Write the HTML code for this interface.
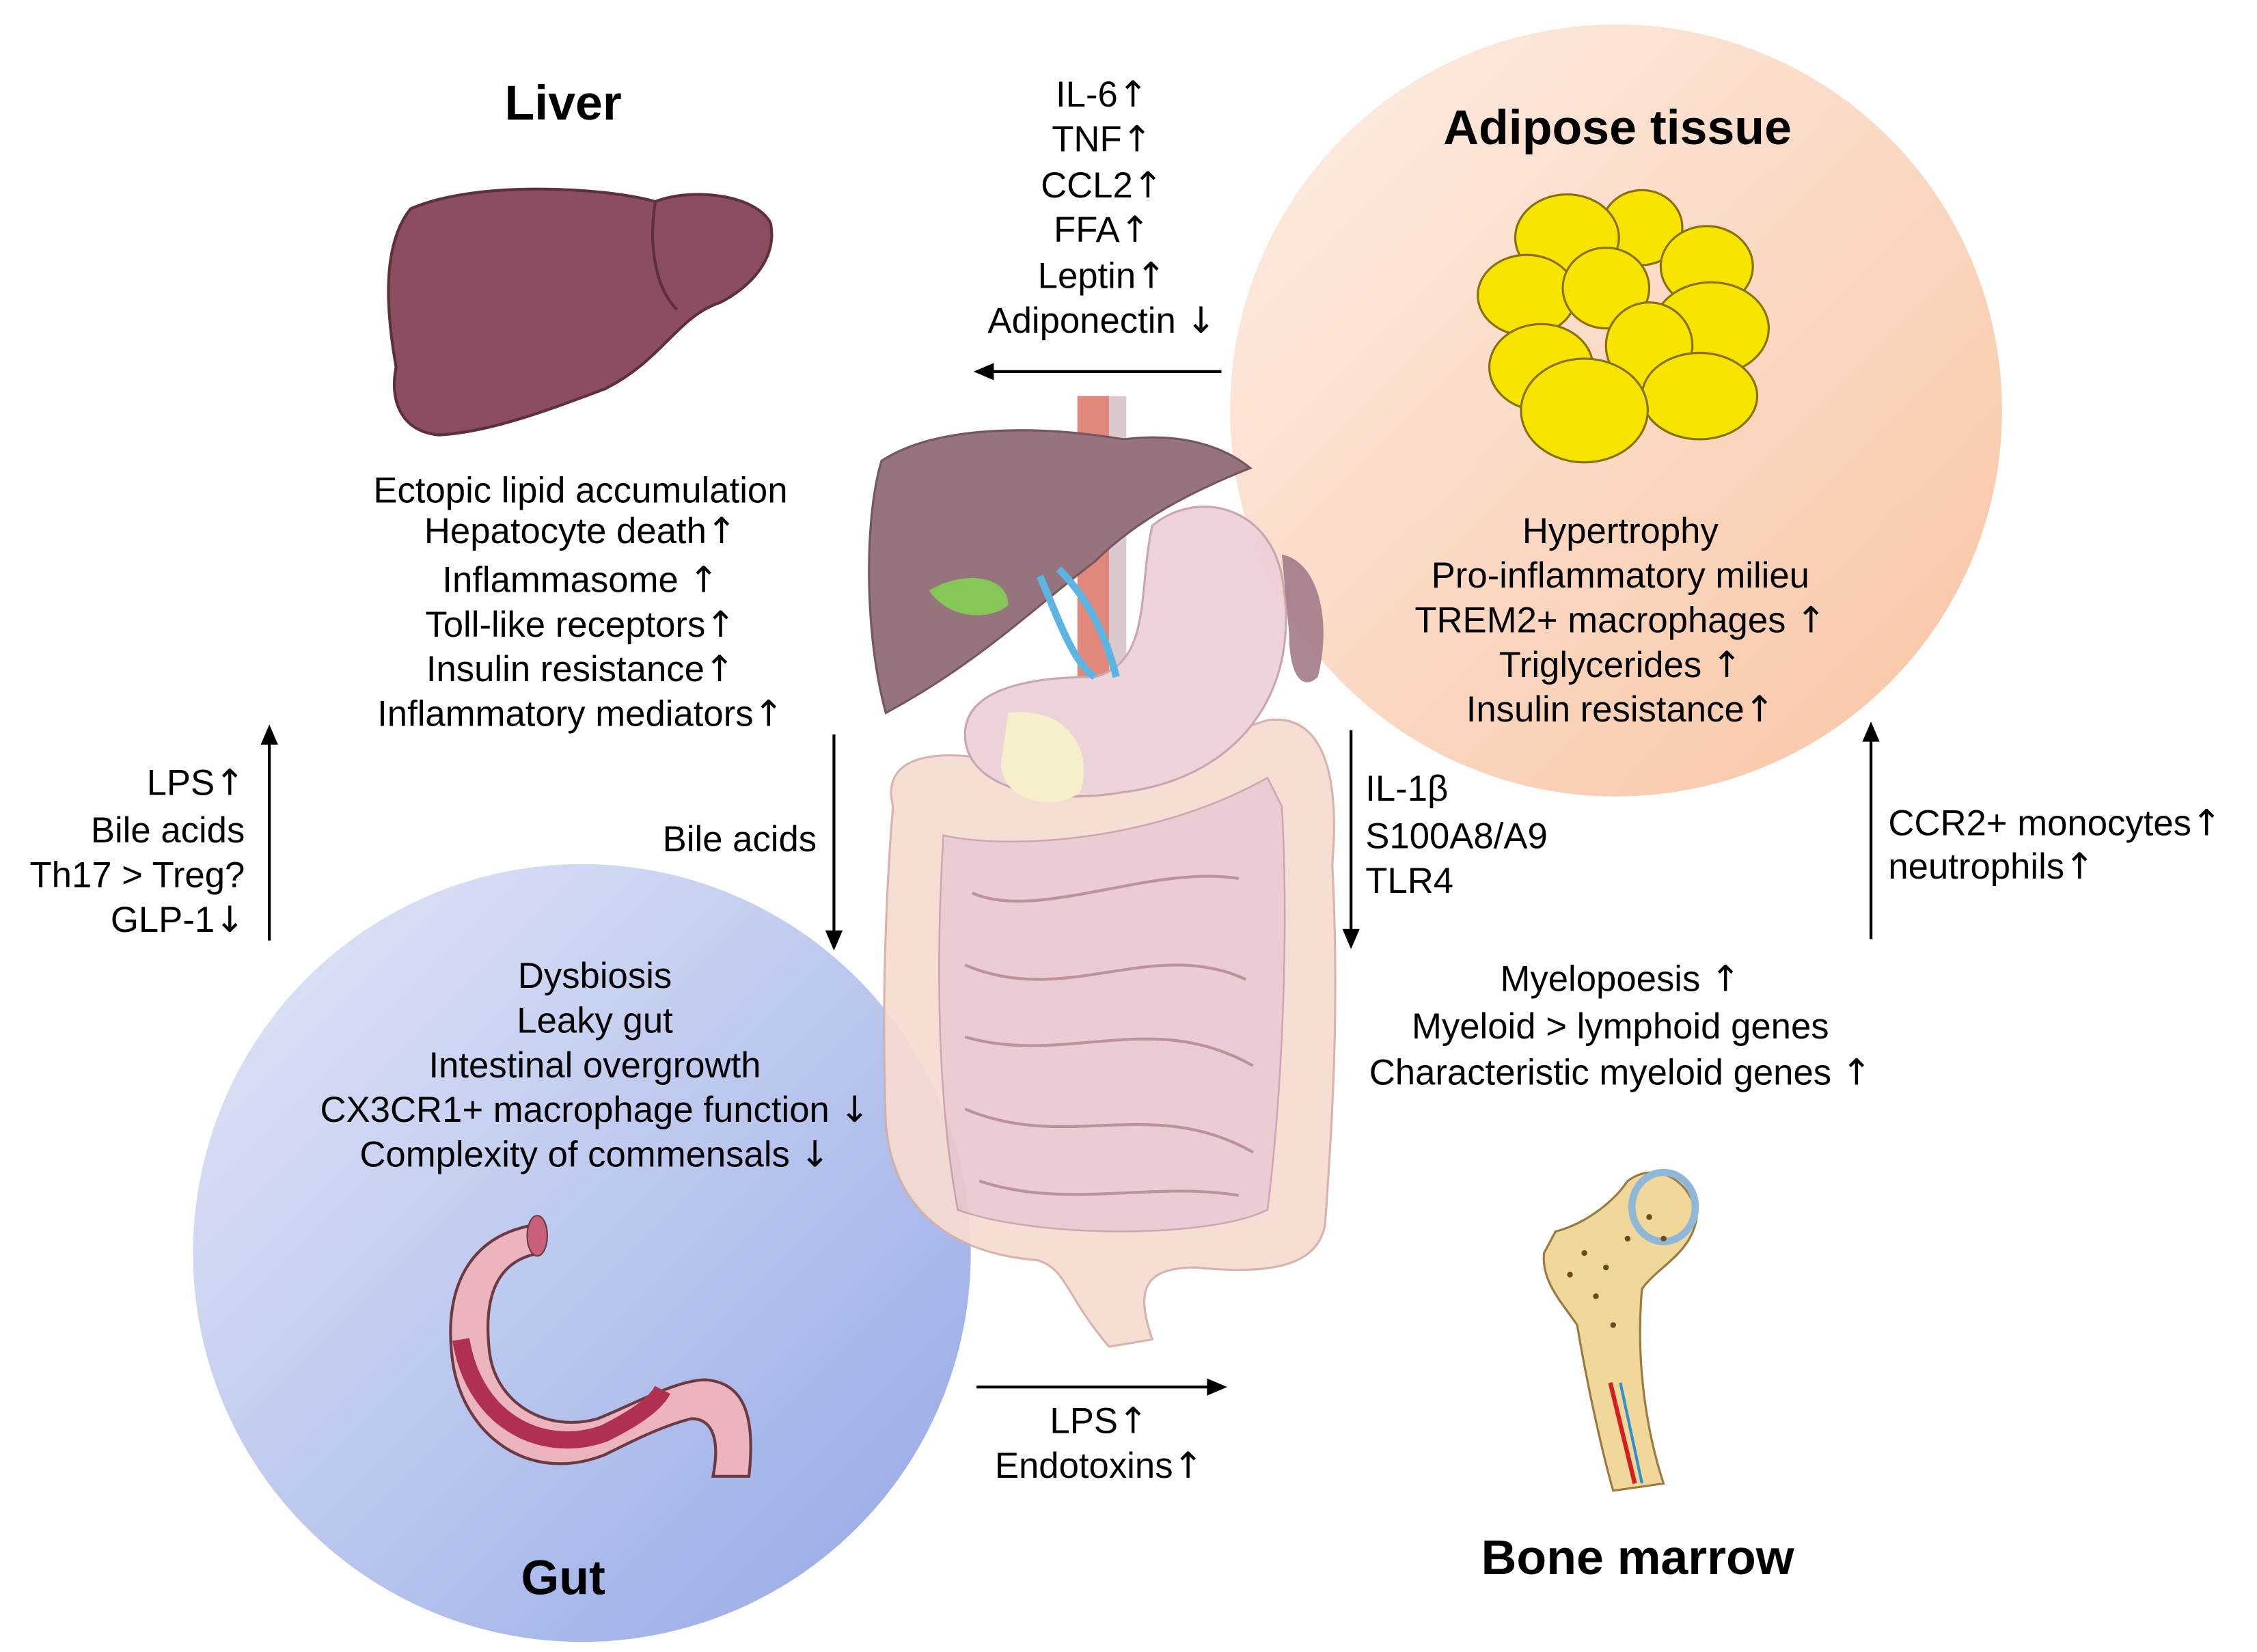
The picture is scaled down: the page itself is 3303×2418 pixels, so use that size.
<!DOCTYPE html>
<html><head><meta charset="utf-8"><style>
html,body{margin:0;padding:0;background:#fff}
svg{display:block}
text{font-family:"Liberation Sans",Arial,sans-serif;fill:#000}
.a{font-family:"DejaVu Sans",sans-serif;font-weight:normal}
</style></head><body>
<svg width="3303" height="2418" viewBox="0 0 1567 1147" preserveAspectRatio="none" xmlns="http://www.w3.org/2000/svg">
<defs>
<linearGradient id="ga" x1="0" y1="0" x2="1" y2="1"><stop offset="0" stop-color="#fdeee6"/><stop offset="1" stop-color="#f9c4a2"/></linearGradient>
<linearGradient id="gg" x1="0" y1="0" x2="1" y2="1"><stop offset="0" stop-color="#e4e8f7"/><stop offset="1" stop-color="#93a7e6"/></linearGradient>
</defs>
<circle cx="1122" cy="285" r="268" fill="url(#ga)"/>
<circle cx="404" cy="870" r="270" fill="url(#gg)"/>

<g opacity="0.93">
<rect x="748" y="275" width="22" height="290" fill="#e08070"/>
<rect x="770" y="275" width="12" height="290" fill="#d8c6cc"/>
<path d="M620,560 C610,520 660,520 700,530 C760,530 820,520 880,500 C920,495 930,540 925,600 C930,700 925,780 920,850 C915,880 880,885 830,880 C790,880 790,900 800,930 L770,935 C740,900 740,880 720,875 C660,870 620,840 615,780 C612,700 615,620 620,560 Z" fill="#f6dcd2" stroke="#d4b0a8" stroke-width="1.5"/>
<path d="M655,580 C700,590 800,585 880,540 L890,560 C895,650 890,760 880,840 C840,860 720,860 665,840 C650,760 650,660 655,580 Z" fill="#e9c9cf" stroke="#c9a0ab" stroke-width="1.2"/>
<path d="M675,620 C720,640 800,600 860,610 M670,670 C740,700 800,650 865,680 M670,720 C740,740 800,700 870,740 M670,770 C740,800 800,760 870,800 M680,820 C740,840 800,820 860,830" fill="none" stroke="#b8899a" stroke-width="2"/>
<path d="M800,365 C830,340 880,350 890,400 C905,480 860,540 780,550 C720,560 670,545 670,510 C670,480 710,470 760,470 C800,460 790,410 800,365 Z" fill="#ecd1d8" stroke="#c8a0ab" stroke-width="1.5"/>
<path d="M700,495 C740,490 760,520 750,550 C730,565 695,555 695,530 Z" fill="#f7edc8"/>
<path d="M612,320 C650,295 720,295 780,305 C820,300 850,310 868,325 C830,340 790,360 760,390 C720,420 680,460 615,495 C600,440 600,360 612,320 Z" fill="#8f6a74" stroke="#6b4a55" stroke-width="1.5"/>
<path d="M645,410 C670,395 700,400 700,420 C690,430 660,432 645,410 Z" fill="#7cc24a"/>
<path d="M722,400 C735,430 745,460 760,470 M735,395 C760,420 770,450 775,470" stroke="#4fb0e0" stroke-width="5" fill="none"/>
<path d="M890,385 C915,390 925,430 915,470 C905,480 895,470 895,440 Z" fill="#a57d8c"/>
</g>

<path d="M285,145 C330,125 420,130 455,140 C480,130 525,135 535,155 C540,180 520,200 500,210 C470,220 460,250 420,270 C380,285 340,300 305,302 C280,300 270,280 275,255 C268,215 265,170 285,145 Z" fill="#8b4e5e" stroke="#5e2f3c" stroke-width="2"/>
<path d="M455,140 C450,170 455,200 470,215" fill="none" stroke="#5e2f3c" stroke-width="2"/>

<g fill="#f7e400" stroke="#8a7000" stroke-width="1.5">
<ellipse cx="1140" cy="158" rx="28" ry="26"/>
<ellipse cx="1088" cy="165" rx="36" ry="30"/>
<ellipse cx="1185" cy="185" rx="32" ry="28"/>
<ellipse cx="1060" cy="205" rx="34" ry="28"/>
<ellipse cx="1115" cy="200" rx="30" ry="28"/>
<ellipse cx="1188" cy="228" rx="40" ry="32"/>
<ellipse cx="1145" cy="240" rx="30" ry="30"/>
<ellipse cx="1070" cy="255" rx="36" ry="30"/>
<ellipse cx="1180" cy="275" rx="40" ry="30"/>
<ellipse cx="1100" cy="285" rx="44" ry="36"/>
</g>

<path d="M375,850 C330,855 305,890 315,950 C325,1000 370,1030 420,1010 C440,1000 460,990 480,985 C495,985 500,1000 495,1025 L520,1025 C525,980 515,960 490,958 C470,958 440,975 415,985 C380,995 345,975 340,940 C335,900 345,875 375,870 Z" fill="#ecb4bd" stroke="#6b3a45" stroke-width="2"/>
<path d="M320,930 C330,990 380,1010 420,995 C440,985 455,975 460,965" fill="none" stroke="#b0304f" stroke-width="12"/>
<ellipse cx="373" cy="858" rx="7" ry="14" fill="#c9607a" stroke="#6b3a45"/>

<path d="M1080,855 C1100,850 1120,835 1130,820 C1150,805 1175,820 1178,845 C1175,870 1150,880 1140,895 C1135,950 1145,1000 1155,1030 L1120,1035 C1110,1000 1100,950 1095,920 C1085,905 1070,890 1072,870 Z" fill="#f2d79a" stroke="#9a7a40" stroke-width="1.5"/>
<ellipse cx="1155" cy="838" rx="22" ry="24" fill="none" stroke="#8fb8d8" stroke-width="5"/>
<g fill="#6b4a20"><circle cx="1100" cy="870" r="2"/><circle cx="1115" cy="880" r="2"/><circle cx="1130" cy="860" r="2"/><circle cx="1145" cy="845" r="2"/><circle cx="1108" cy="900" r="2"/><circle cx="1120" cy="920" r="2"/><circle cx="1090" cy="885" r="2"/><circle cx="1155" cy="860" r="2"/></g>
<path d="M1118,960 L1135,1030" stroke="#d02020" stroke-width="3"/>
<path d="M1125,960 L1140,1030" stroke="#3090d0" stroke-width="2"/>

<g stroke="#000" stroke-width="2" fill="none">
<line x1="848" y1="258" x2="686" y2="258"/>
<line x1="187" y1="653" x2="187" y2="515"/>
<line x1="579" y1="510" x2="579" y2="648"/>
<line x1="938" y1="507" x2="938" y2="647"/>
<line x1="1299" y1="652" x2="1299" y2="513"/>
<line x1="678" y1="963" x2="840" y2="963"/>
</g>
<g fill="#000">
<path d="M676,258 L690,252 L690,264 Z"/>
<path d="M187,503 L181,517 L193,517 Z"/>
<path d="M579,660 L573,646 L585,646 Z"/>
<path d="M938,659 L932,645 L944,645 Z"/>
<path d="M1299,501 L1293,515 L1305,515 Z"/>
<path d="M852,963 L838,957 L838,969 Z"/>
</g>

<g font-weight="bold" font-size="34" text-anchor="middle">
<text x="391" y="83">Liver</text>
<text x="1123" y="100">Adipose tissue</text>
<text x="391" y="1107">Gut</text>
<text x="1137" y="1093">Bone marrow</text>
</g>

<g font-size="25" text-anchor="middle">
<text x="765" y="74">IL-6<tspan class="a">↑</tspan></text>
<text x="765" y="105">TNF<tspan class="a">↑</tspan></text>
<text x="765" y="137">CCL2<tspan class="a">↑</tspan></text>
<text x="765" y="168">FFA<tspan class="a">↑</tspan></text>
<text x="765" y="200">Leptin<tspan class="a">↑</tspan></text>
<text x="765" y="231">Adiponectin <tspan class="a">↓</tspan></text>

<text x="403" y="349">Ectopic lipid accumulation</text>
<text x="403" y="377">Hepatocyte death<tspan class="a">↑</tspan></text>
<text x="403" y="411">Inflammasome <tspan class="a">↑</tspan></text>
<text x="403" y="442">Toll-like receptors<tspan class="a">↑</tspan></text>
<text x="403" y="473">Insulin resistance<tspan class="a">↑</tspan></text>
<text x="403" y="504">Inflammatory mediators<tspan class="a">↑</tspan></text>

<text x="1125" y="377">Hypertrophy</text>
<text x="1125" y="408">Pro-inflammatory milieu</text>
<text x="1125" y="439">TREM2+ macrophages <tspan class="a">↑</tspan></text>
<text x="1125" y="470">Triglycerides <tspan class="a">↑</tspan></text>
<text x="1125" y="501">Insulin resistance<tspan class="a">↑</tspan></text>

<text x="413" y="686">Dysbiosis</text>
<text x="413" y="717">Leaky gut</text>
<text x="413" y="748">Intestinal overgrowth</text>
<text x="413" y="779">CX3CR1+ macrophage function <tspan class="a">↓</tspan></text>
<text x="413" y="810">Complexity of commensals <tspan class="a">↓</tspan></text>

<text x="1125" y="688">Myelopoesis <tspan class="a">↑</tspan></text>
<text x="1125" y="721">Myeloid &gt; lymphoid genes</text>
<text x="1125" y="753">Characteristic myeloid genes <tspan class="a">↑</tspan></text>

<text x="763" y="995">LPS<tspan class="a">↑</tspan></text>
<text x="763" y="1026">Endotoxins<tspan class="a">↑</tspan></text>
</g>
<g font-size="25" text-anchor="end">
<text x="170" y="552">LPS<tspan class="a">↑</tspan></text>
<text x="170" y="585">Bile acids</text>
<text x="170" y="616">Th17 &gt; Treg?</text>
<text x="170" y="647">GLP-1<tspan class="a">↓</tspan></text>
<text x="567" y="591">Bile acids</text>
</g>
<g font-size="25">
<text x="948" y="556">IL-1β</text>
<text x="948" y="589">S100A8/A9</text>
<text x="948" y="620">TLR4</text>
<text x="1311" y="580">CCR2+ monocytes<tspan class="a">↑</tspan></text>
<text x="1311" y="610">neutrophils<tspan class="a">↑</tspan></text>
</g>
</svg>
</body></html>
